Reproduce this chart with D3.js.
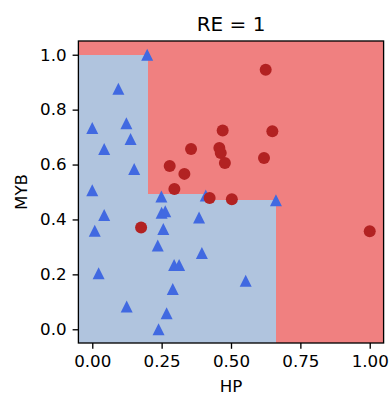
<!DOCTYPE html>
<html>
<head>
<meta charset="utf-8">
<script src="https://cdn.jsdelivr.net/npm/d3@7"></script>
<style>
  body { margin: 0; background: #fff; }
  svg text { font-family: "DejaVu Sans", sans-serif; fill: #000; }
</style>
</head>
<body>
<svg id="chart" width="391" height="395"></svg>
<script>
// class 0 points (triangles)
var triX = [0.198, 0.094, 0.0, 0.123, 0.138, 0.043, 0.151, 0.0, 0.249, 0.043,
    0.009, 0.25, 0.263, 0.256, 0.236, 0.385, 0.395, 0.295, 0.313, 0.023,
    0.29, 0.124, 0.268, 0.239, 0.409, 0.662, 0.553]
var triY = [1.0, 0.876, 0.733, 0.75, 0.693, 0.657, 0.584, 0.506, 0.484, 0.416,
    0.359, 0.424, 0.43, 0.365, 0.305, 0.407, 0.278, 0.234, 0.234, 0.204,
    0.147, 0.083, 0.058, 0.0, 0.487, 0.47, 0.177]

// class 1 points (circles)
var cirX = [0.47, 0.356, 0.458, 0.463, 0.478, 0.279, 0.332, 0.296, 0.625, 0.649,
    0.619, 0.176, 0.423, 0.503, 1.0]
var cirY = [0.724, 0.657, 0.66, 0.642, 0.606, 0.595, 0.566, 0.511, 0.945, 0.721,
    0.624, 0.371, 0.478, 0.474, 0.357]

// decision regions for class 0: [x0, x1, yTop] (extend to bottom of axes)
var regionX0 = [-0.05, 0.2, 0.40]
var regionX1 = [0.2, 0.40, 0.66]
var regionTop = [1.0, 0.491, 0.47]

var xTicks = [0, 0.25, 0.5, 0.75, 1.0]
var yTicks = [0, 0.2, 0.4, 0.6, 0.8, 1.0]

var svg = d3.select('#chart')
var pLeft = 78.4, pRight = 383.6, pTop = 41, pBottom = 343

var x = d3.scaleLinear().domain([-0.05, 1.05]).range([pLeft, pRight])
var y = d3.scaleLinear().domain([-0.05, 1.05]).range([pBottom, pTop])

// background (class 1 region)
svg.append('rect')
    .attr('x', pLeft).attr('y', pTop)
    .attr('width', pRight - pLeft).attr('height', pBottom - pTop)
    .style('fill', '#f08080')

svg.selectAll('.region')
    .data(regionX0)
    .enter()
    .append('rect')
    .attr('class', 'region')
    .attr('x', function (d) { return x(Math.max(d, -0.05)) })
    .attr('y', function (d, i) { return y(regionTop[i]) })
    .attr('width', function (d, i) { return x(regionX1[i]) - x(Math.max(d, -0.05)) + 0.5 })
    .attr('height', function (d, i) { return pBottom - y(regionTop[i]) })
    .attr('shape-rendering', 'crispEdges')
    .style('fill', '#b0c4de')

// triangles
svg.selectAll('.tri')
    .data(triX)
    .enter()
    .append('path')
    .attr('class', 'tri')
    .attr('d', 'M0,-6L6,6L-6,6Z')
    .attr('transform', function (d, i) { return 'translate(' + x(d) + ',' + y(triY[i]) + ')' })
    .style('fill', '#4169e1')

// circles
svg.selectAll('.dot')
    .data(cirX)
    .enter()
    .append('circle')
    .attr('class', 'dot')
    .attr('cx', function (d) { return x(d) })
    .attr('cy', function (d, i) { return y(cirY[i]) })
    .attr('r', 6)
    .style('fill', '#b22222')

// axes
var xAxis = d3.axisBottom(x)
    .tickValues(xTicks)
    .tickFormat(d3.format('.2f'))
    .tickSize(5.8)
    .tickPadding(6)
var yAxis = d3.axisLeft(y)
    .tickValues(yTicks)
    .tickFormat(d3.format('.1f'))
    .tickSize(5.8)
    .tickPadding(6)

svg.append('g')
    .attr('transform', 'translate(0,' + pBottom + ')')
    .call(xAxis)
svg.append('g')
    .attr('transform', 'translate(' + pLeft + ',0)')
    .call(yAxis)

svg.selectAll('.domain').remove()
svg.selectAll('.tick line').attr('stroke', '#000').attr('stroke-width', 1.33)
svg.selectAll('.tick text')
    .style('font-size', '16.7px')
    .style('font-family', '"DejaVu Sans", sans-serif')
    .attr('fill', '#000')

// frame
svg.append('rect')
    .attr('x', pLeft).attr('y', pTop)
    .attr('width', pRight - pLeft).attr('height', pBottom - pTop)
    .style('fill', 'none')
    .style('stroke', '#000')
    .style('stroke-width', 1.33)

svg.append('text')
    .attr('x', (pLeft + pRight) / 2)
    .attr('y', 30.5)
    .attr('text-anchor', 'middle')
    .style('font-size', '20px')
    .text('RE = 1')

svg.append('text')
    .attr('x', (pLeft + pRight) / 2)
    .attr('y', 392)
    .attr('text-anchor', 'middle')
    .style('font-size', '16.7px')
    .text('HP')

svg.append('text')
    .attr('transform', 'translate(26.5,' + (pTop + pBottom) / 2 + ') rotate(-90)')
    .attr('text-anchor', 'middle')
    .style('font-size', '16.7px')
    .text('MYB')
</script>
</body>
</html>
